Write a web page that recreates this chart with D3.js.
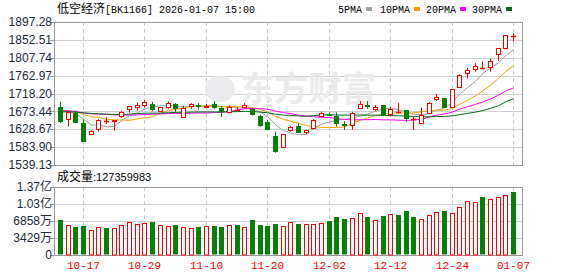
<!DOCTYPE html>
<meta charset="utf-8">
<style>
body { margin: 0; background: #fff; }
text { font-family: "Liberation Sans", Arial, sans-serif; }
.mono { font-family: "Liberation Mono", "DejaVu Sans Mono", monospace; }
</style>
<body>
<script src="https://d3js.org/d3.v7.min.js"></script>
<script>

// trading days shown
var dates = ["10-14","10-15","10-16","10-17","10-20","10-21","10-22","10-23","10-24","10-27",
  "10-28","10-29","10-30","10-31","11-03","11-04","11-05","11-06","11-07","11-10",
  "11-11","11-12","11-13","11-14","11-17","11-18","11-19","11-20","11-21","11-24",
  "11-25","11-26","11-27","11-28","12-01","12-02","12-03","12-04","12-05","12-08",
  "12-09","12-10","12-11","12-12","12-15","12-16","12-17","12-18","12-19","12-22",
  "12-23","12-24","12-25","12-26","12-29","12-30","12-31","01-05","01-06","01-07"];

var opens  = [1684,1654,1670,1645,1618,1629,1650,1650,1662,1680,1684,1689,1692,1675,1684,1692,1660,1688,1690,1684,
              1692,1683,1673,1678,1685,1679,1662,1648,1612,1584,1627,1637,1623,1631,1663,1667,1663,1642,1639,1681,
              1689,1679,1689,1666,1673,1677,1655,1644,1670,1704,1706,1684,1735,1769,1779,1781,1785,1816,1831,1862];
var highs  = [1697,1675,1675,1654,1627,1654,1659,1652,1675,1687,1696,1702,1697,1685,1698,1694,1687,1694,1694,1692,
              1699,1687,1689,1684,1694,1682,1665,1652,1623,1617,1637,1644,1627,1654,1673,1671,1671,1649,1672,1699,
              1699,1689,1689,1684,1694,1677,1660,1683,1697,1717,1707,1729,1766,1783,1794,1798,1806,1832,1864,1869];
var lows   = [1644,1635,1644,1598,1614,1623,1642,1625,1657,1670,1675,1683,1674,1674,1680,1669,1660,1679,1677,1682,
              1680,1659,1671,1674,1681,1663,1635,1627,1570,1583,1622,1619,1616,1628,1660,1661,1635,1627,1627,1681,
              1680,1674,1662,1661,1668,1647,1627,1642,1669,1700,1684,1683,1734,1756,1773,1779,1773,1800,1830,1848];
var closes = [1650,1673,1648,1600,1624,1652,1650,1652,1672,1687,1689,1696,1679,1685,1695,1681,1682,1693,1687,1688,
              1685,1674,1684,1678,1690,1666,1640,1629,1574,1617,1634,1623,1627,1652,1669,1664,1644,1639,1669,1692,
              1687,1685,1664,1679,1673,1656,1655,1664,1695,1709,1685,1729,1765,1777,1787,1781,1800,1831,1864,1862];

// volume in 万
var volumes = [7060,5990,5710,5850,4970,5650,5510,5450,5990,6590,6190,6390,6660,5990,5780,6050,5650,5450,5650,5780,
               5850,5650,5990,6050,5650,7060,6050,5850,6250,5780,6590,6250,6250,6190,6390,6860,7660,7260,7400,8410,
               7660,6990,7870,8210,8070,8870,7660,7200,8000,8610,8870,8410,9620,10830,10630,11700,11300,11640,12100,12736];

// closes before the first visible day (feed the moving averages)
var priorCloses = [1665,1672,1660,1668,1675,1680,1671,1669,1662,1658,1665,1672,1678,1670,1664,1668,1675,1680,
                   1685,1688,1672,1666,1670,1675,1672,1695,1668,1675,1698];

var priceTicks = [1539.13,1583.90,1628.67,1673.44,1718.20,1762.97,1807.74,1852.51,1897.28];
var volTicks = [0,3429,6858,10287,13716];
var volTickLabels = ["0","3429万","6858万","1.03亿","1.37亿"];
var dateTicks = ["10-17","10-29","11-10","11-20","12-02","12-12","12-24","01-07"];
var maPeriods = [5,10,20,30];
var maColors = ["#a0a0a0","#f0a400","#ff00ff","#006b1f"];

var red = "#ff0000", green = "#078007";
var W = 578, H = 276;
var left = 54, right = 522;
var pTop = 22, pBot = 165, vTop = 187, vBot = 255;

var svg = d3.select("body").append("svg")
    .attr("width", W).attr("height", H);

var x = d3.scaleBand().domain(dates).range([56.16, 56.16 + 7.68 * dates.length]);
var cx = function(d) { return Math.round(x(d) + x.bandwidth() / 2); };
var y = d3.scaleLinear().domain([priceTicks[0], priceTicks[priceTicks.length - 1]]).range([pBot, pTop]);
var yv = d3.scaleLinear().domain([0, volTicks[volTicks.length - 1]]).range([vBot, vTop]);

// horizontal grid
svg.append("g").selectAll("line").data(priceTicks.slice(1, -1)).join("line")
    .attr("x1", left).attr("x2", right)
    .attr("y1", function(d) { return Math.round(y(d)) + 0.5; })
    .attr("y2", function(d) { return Math.round(y(d)) + 0.5; })
    .attr("stroke", "#d0d0d0");
svg.append("g").selectAll("line").data(volTicks.slice(1, -1)).join("line")
    .attr("x1", left).attr("x2", right)
    .attr("y1", function(d) { return Math.round(yv(d)) + 0.5; })
    .attr("y2", function(d) { return Math.round(yv(d)) + 0.5; })
    .attr("stroke", "#d0d0d0");

// vertical dashed grid
[[pTop, pBot], [vTop, vBot]].forEach(function(r) {
  svg.append("g").selectAll("line").data(dateTicks).join("line")
      .attr("x1", function(d) { return cx(d) + 0.5; })
      .attr("x2", function(d) { return cx(d) + 0.5; })
      .attr("y1", r[0]).attr("y2", r[1])
      .attr("stroke", "#cccccc").attr("stroke-dasharray", "4,3");
});

// watermark
svg.append("text")
    .attr("x", 240).attr("y", 101)
    .style("font-family", "'Noto Sans CJK SC', sans-serif")
    .style("font-size", "34px").style("font-weight", "bold")
    .attr("fill", "#ebebee")
    .text("东方财富");
svg.append("ellipse")
    .attr("cx", 220).attr("cy", 89).attr("rx", 15).attr("ry", 13)
    .attr("fill", "#ebebee");

// frames
[[pTop, pBot], [vTop, vBot]].forEach(function(r) {
  svg.append("rect")
      .attr("x", left + 0.5).attr("y", r[0] + 0.5)
      .attr("width", right - left).attr("height", r[1] - r[0])
      .attr("fill", "none").attr("stroke", "#999999");
});

// price axis labels
var pa = svg.append("g");
pa.selectAll("line").data(priceTicks).join("line")
    .attr("x1", left - 4).attr("x2", left)
    .attr("y1", function(d) { return Math.round(y(d)) + 0.5; })
    .attr("y2", function(d) { return Math.round(y(d)) + 0.5; })
    .attr("stroke", "#999999");
pa.selectAll("text").data(priceTicks).join("text")
    .attr("x", left - 2).attr("y", function(d) { return y(d); })
    .attr("dy", "0.35em").attr("text-anchor", "end")
    .style("font-size", "12px").attr("fill", "#1c2b3c")
    .text(function(d) { return d.toFixed(2); });

// volume axis labels
var va = svg.append("g");
va.selectAll("line").data(volTicks).join("line")
    .attr("x1", left - 4).attr("x2", left)
    .attr("y1", function(d) { return Math.round(yv(d)) + 0.5; })
    .attr("y2", function(d) { return Math.round(yv(d)) + 0.5; })
    .attr("stroke", "#999999");
va.selectAll("text").data(volTicks).join("text")
    .attr("x", left - 2).attr("y", function(d) { return yv(d); })
    .attr("dy", "0.35em").attr("text-anchor", "end")
    .style("font-size", "12px").attr("fill", "#1c2b3c")
    .style("font-family", "'Liberation Sans', 'Noto Sans CJK SC', sans-serif")
    .text(function(d, i) { return volTickLabels[i]; });

// date labels
svg.append("g").selectAll("text").data(dateTicks).join("text")
    .attr("class", "mono")
    .attr("x", function(d) { return cx(d) + 0.5; }).attr("y", 269)
    .attr("text-anchor", "middle")
    .style("font-size", "11px").attr("fill", red)
    .text(function(d) { return d; });

// title
var title = svg.append("text").attr("x", 57).attr("y", 13).attr("fill", "#000");
title.append("tspan").style("font-family", "'Noto Sans CJK SC', sans-serif").style("font-size", "12px").text("低空经济");
title.append("tspan").attr("class", "mono").style("font-size", "10px").text("[BK1166] 2026-01-07 15:00");

// legend
var lx = [338, 380, 426, 472];
maPeriods.forEach(function(n, i) {
  var t = svg.append("text").attr("class", "mono")
      .attr("x", lx[i]).attr("y", 13)
      .style("font-size", "10px").attr("fill", "#000")
      .text(n + "PMA");
  svg.append("rect")
      .attr("x", lx[i] + (n < 10 ? 28 : 34)).attr("y", 7)
      .attr("width", 6).attr("height", 4)
      .attr("fill", maColors[i]);
});

// volume title
var vt = svg.append("text").attr("x", 57).attr("y", 181).attr("fill", "#000");
vt.append("tspan").style("font-family", "'Noto Sans CJK SC', sans-serif").style("font-size", "12px").text("成交量");
vt.append("tspan").style("font-size", "11px").text(":127359983");

// up/down for each day
var isUp = dates.map(function(d, i) {
  if (closes[i] !== opens[i]) return closes[i] > opens[i];
  return i === 0 ? true : closes[i] >= closes[i - 1];
});

// volume bars
svg.append("g").selectAll("rect").data(dates).join("rect")
    .attr("x", function(d) { return cx(d) - 2; })
    .attr("y", function(d, i) { return Math.round(yv(volumes[i])) + 0.5; })
    .attr("width", function(d, i) { return isUp[i] ? 4 : 5; })
    .attr("height", function(d, i) { return vBot - Math.round(yv(volumes[i])) - 0.5; })
    .attr("transform", function(d, i) { return isUp[i] ? "translate(0.5,0)" : "translate(0,-0.5)"; })
    .attr("fill", function(d, i) { return isUp[i] ? "#fff" : green; })
    .attr("stroke", function(d, i) { return isUp[i] ? red : "none"; });

// moving averages
var all = priorCloses.concat(closes);
var k = priorCloses.length;
maPeriods.forEach(function(n, m) {
  var vals = closes.map(function(c, i) {
    return d3.mean(all.slice(k + i + 1 - n, k + i + 1));
  });
  var line = d3.line()
      .x(function(d, i) { return cx(dates[i]) + 0.5; })
      .y(function(d) { return y(d); });
  svg.append("path")
      .datum(vals)
      .attr("d", line)
      .attr("fill", "none")
      .attr("stroke", maColors[m])
      .attr("stroke-width", 1);
});

// candles
var cg = svg.append("g");
dates.forEach(function(d, i) {
  var c = cx(d);
  var o = opens[i], cl = closes[i];
  var up = cl > o, doji = cl === o;
  var col = (up || doji) ? red : green;
  cg.append("line")
      .attr("x1", c + 0.5).attr("x2", c + 0.5)
      .attr("y1", y(highs[i])).attr("y2", y(lows[i]))
      .attr("stroke", col);
  if (doji) {
    cg.append("line")
        .attr("x1", c - 2).attr("x2", c + 3)
        .attr("y1", Math.round(y(o)) + 0.5).attr("y2", Math.round(y(o)) + 0.5)
        .attr("stroke", col).attr("stroke-width", 1.5);
  } else if (up) {
    var t = Math.round(y(cl)), b = Math.round(y(o));
    cg.append("rect")
        .attr("x", c - 1.5).attr("y", t + 0.5)
        .attr("width", 4).attr("height", Math.max(1, b - t))
        .attr("fill", "#fff").attr("stroke", col);
  } else {
    var t2 = Math.round(y(o)), b2 = Math.round(y(cl));
    cg.append("rect")
        .attr("x", c - 2).attr("y", t2)
        .attr("width", 5).attr("height", Math.max(1, b2 - t2 + 1))
        .attr("fill", col);
  }
});

</script>
</body>
